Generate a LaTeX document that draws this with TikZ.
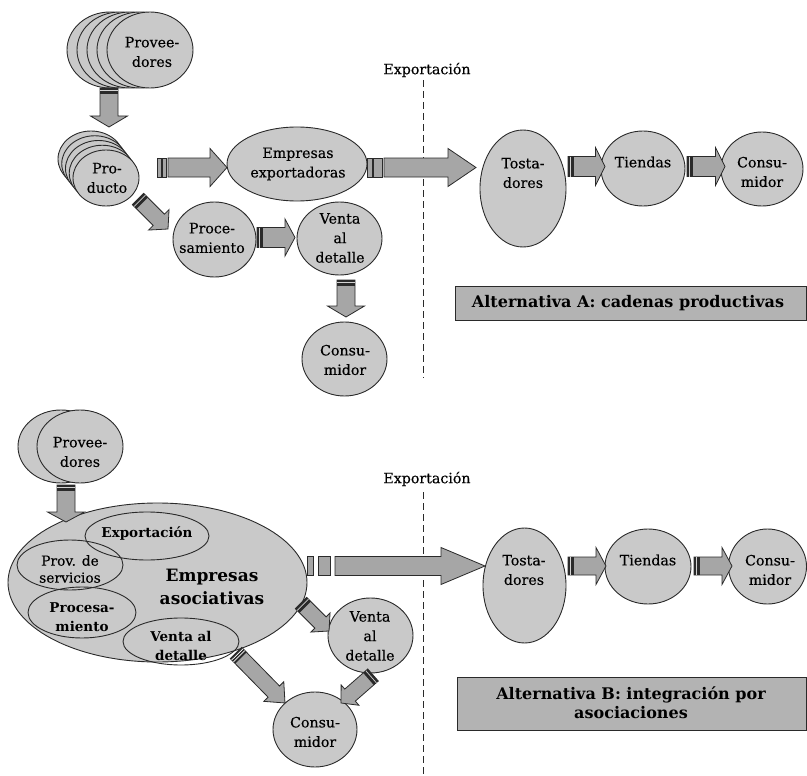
\documentclass[tikz,border=0pt]{standalone}
\usepackage{fontspec}
\setmainfont{DejaVu Serif}
\newfontfamily\lblfont{DejaVu Serif}[FakeBold=0.3]
\usetikzlibrary{calc,shapes.geometric}
\definecolor{ellfill}{HTML}{C9C9C9}
\definecolor{arrfill}{HTML}{A6A6A6}
\definecolor{boxfill}{HTML}{B3B3B3}
\definecolor{lineC}{HTML}{2A2A2A}
\tikzset{
 ell/.style={ellipse, draw=lineC, fill=ellfill, line width=0.9pt, inner sep=0pt},
 inell/.style={ellipse, draw=lineC, line width=0.9pt, inner sep=0pt},
 txt/.style={align=center, font=\lblfont\fontsize{14.2}{19.5}\selectfont, inner sep=0pt, text=black},
 smtxt/.style={align=center, font=\lblfont\fontsize{13.8}{17}\selectfont, inner sep=0pt, text=black},
 btxt/.style={align=center, font=\bfseries\fontsize{13.5}{19}\selectfont, inner sep=0pt, text=black},
 bigtxt/.style={align=center, font=\bfseries\fontsize{17}{23}\selectfont, inner sep=0pt, text=black},
 boxtxt/.style={align=center, font=\bfseries\fontsize{16}{19}\selectfont, inner sep=0pt, text=black},
 barr/.style={draw=lineC, fill=arrfill, line width=0.8pt, line join=miter},
 exline/.style={draw=lineC, dash pattern=on 7pt off 4pt, line width=0.8pt},
 altbox/.style={draw=lineC, fill=boxfill, line width=0.9pt, inner sep=0pt},
}
% block arrow: #1 tail, #2 tip, #3 shaft start, #4 shaft half width, #5 head half width, #6 head length, #7 tail decoration
\newcommand\blkarrow[7]{%
  \path let \p1=(#1), \p2=(#2) in
    \pgfextra{\pgfmathsetmacro\tmpA{atan2(\y2-\y1,\x2-\x1)}%
              \pgfmathsetmacro\tmpL{veclen(\x2-\x1,\y2-\y1)}%
              \global\let\baAng\tmpA \global\let\baLen\tmpL};
  \def\bahw{#4}%
  \begin{scope}[shift={(#1)}, rotate=\baAng]
    \draw[barr] (#3,-#4) -- ({\baLen-#6},-#4) -- ({\baLen-#6},-#5) -- (\baLen,0)
      -- ({\baLen-#6},#5) -- ({\baLen-#6},#4) -- (#3,#4) -- cycle;
    #7
  \end{scope}}
\newcommand\tailband{\fill[lineC] (0,-\bahw) rectangle (6,\bahw);
  \draw[arrfill!50!white, line width=0.7pt] (2.6,-\bahw) -- (2.6,\bahw);}
\newcommand\taillight{\fill[lineC] (0,-\bahw) rectangle (7,\bahw);
  \draw[white, line width=0.7pt] (2,-\bahw) -- (2,\bahw);
  \draw[white, line width=0.7pt] (4.5,-\bahw) -- (4.5,\bahw);}
\newcommand\tailstripes{\draw[barr] (0,-\bahw) rectangle (4,\bahw);
  \draw[barr] (5.5,-\bahw) rectangle (9,\bahw);}
\newcommand\tailgapA{\draw[barr] (0,-\bahw) rectangle (5,\bahw);
  \draw[barr] (6.5,-\bahw) rectangle (15,\bahw);}
\newcommand\tailgapB{\draw[barr] (0,-\bahw) rectangle (6,\bahw);
  \draw[barr] (11,-\bahw) rectangle (23,\bahw);}
\begin{document}
\begin{tikzpicture}[x=1pt,y=-1pt]
\useasboundingbox (0,0) rectangle (807,776);

% ================= Alternativa A =================
\foreach \i/\cx in {1/110,2/120,3/130,4/140}
  {\node[ell, minimum width=86pt, minimum height=76pt] (provTop\i) at (\cx,50) {};}
\node[ell, minimum width=86pt, minimum height=76pt] (provTop) at (150,50) {};
\node[txt] (provTopT) at (152,52) {Provee-\\dores};

\foreach \k in {4,3,2,1}
  {\node[ell, minimum width=66pt, minimum height=56pt] (prod\k) at ({106-3.75*\k},{178-4.75*\k}) {};}
\node[ell, minimum width=66pt, minimum height=56pt] (prod) at (106,178) {};
\node[txt] (prodT) at (107,178) {Pro-\\ducto};

\node[ell, minimum width=140pt, minimum height=74pt] (empA) at (297,164) {};
\node[txt] (empAT) at (298,164) {Empresas\\exportadoras};

\node[ell, minimum width=83pt, minimum height=75pt] (procA) at (214.5,239.5) {};
\node[txt] (procAT) at (212,238) {Proce-\\samiento};

\node[ell, minimum width=85pt, minimum height=73pt] (ventaA) at (339.5,238.5) {};
\node[txt] (ventaAT) at (340,238) {Venta\\al\\detalle};

\node[ell, minimum width=85pt, minimum height=74pt] (consA1) at (344.5,359) {};
\node[txt] (consA1T) at (345,360) {Consu-\\midor};

\node[ell, minimum width=86pt, minimum height=117pt] (tostA) at (523,188.5) {};
\node[txt] (tostAT) at (523,173) {Tosta-\\dores};

\node[ell, minimum width=84pt, minimum height=75pt] (tiendA) at (643,168.5) {};
\node[txt] (tiendAT) at (643,162) {Tiendas};

\node[ell, minimum width=82pt, minimum height=74pt] (consA2) at (762,169) {};
\node[txt] (consA2T) at (762,172) {Consu-\\midor};

\coordinate (dashA1) at (423,80);
\coordinate (dashA2) at (423,378);
\draw[exline] (dashA1) -- (dashA2);
\node[txt] (expA) at (427,70) {Exportación};

\node[altbox, anchor=north west, minimum width=351pt, minimum height=34pt] (altA) at (455,286) {};
\node[boxtxt] (altAT) at (628,303) {Alternativa A: cadenas productivas};

% arrows A
\coordinate (a1s) at (109,88);   \coordinate (a1e) at (109,127);
\coordinate (a2s) at (157,167.5); \coordinate (a2e) at (227,167.5);
\coordinate (a3s) at (367,167.5); \coordinate (a3e) at (476,167.5);
\coordinate (a4s) at (568,166.5); \coordinate (a4e) at (605,166.5);
\coordinate (a5s) at (687,166.5); \coordinate (a5e) at (725,166.5);
\coordinate (a6s) at (138,199);   \coordinate (a6e) at (168,229);
\coordinate (a7s) at (257,237.5); \coordinate (a7e) at (295,237.5);
\coordinate (a8s) at (346,280);   \coordinate (a8e) at (346,317);
\blkarrow{a1s}{a1e}{0}{9}{18.5}{11}{\tailband}
\blkarrow{a2s}{a2e}{11}{9.5}{19}{17}{\tailstripes}
\blkarrow{a3s}{a3e}{17}{9.5}{19}{28}{\tailgapA}
\blkarrow{a4s}{a4e}{0}{10}{19}{9.5}{\tailband}
\blkarrow{a5s}{a5e}{0}{10}{19}{9.5}{\tailband}
\blkarrow{a6s}{a6e}{0}{8}{14.5}{13}{\tailband}
\blkarrow{a7s}{a7e}{0}{10}{18.5}{10}{\tailband}
\blkarrow{a8s}{a8e}{0}{9}{18.5}{11}{\tailband}

% ================= Alternativa B =================
\node[ell, minimum width=86pt, minimum height=73pt] (provB1) at (61,446.5) {};
\node[ell, minimum width=86pt, minimum height=73pt] (provB) at (80,446.5) {};
\node[txt] (provBT) at (80,452) {Provee-\\dores};

\node[ell, minimum width=299pt, minimum height=159pt] (asoc) at (157.5,582.5) {};
\node[inell, minimum width=124pt, minimum height=48pt] (expIn) at (147,536) {};
\node[inell, minimum width=106pt, minimum height=50pt] (provSer) at (70,565) {};
\node[inell, minimum width=108pt, minimum height=51pt] (procIn) at (82,612.5) {};
\node[inell, minimum width=116pt, minimum height=47pt] (ventaIn) at (181,641.5) {};
\node[btxt] (expInT) at (147,534) {Exportación};
\node[smtxt] (provSerT) at (70,569) {Prov. de\\servicios};
\node[btxt] (procInT) at (82,617) {Procesa-\\miento};
\node[btxt] (ventaInT) at (181,646) {Venta al\\detalle};
\node[bigtxt] (asocT) at (212,587) {Empresas\\asociativas};

\node[ell, minimum width=83pt, minimum height=115pt] (tostB) at (524.5,585.5) {};
\node[txt] (tostBT) at (524,570) {Tosta-\\dores};

\node[ell, minimum width=86pt, minimum height=75pt] (tiendB) at (648,566.5) {};
\node[txt] (tiendBT) at (648,560) {Tiendas};

\node[ell, minimum width=78pt, minimum height=75pt] (consB2) at (767.5,566.5) {};
\node[txt] (consB2T) at (770,570) {Consu-\\midor};

\node[ell, minimum width=85pt, minimum height=75pt] (ventaB) at (370.5,635.5) {};
\node[txt] (ventaBT) at (370,636) {Venta\\al\\detalle};

\node[ell, minimum width=84pt, minimum height=75pt] (consB1) at (315,729.5) {};
\node[txt] (consB1T) at (315,732) {Consu-\\midor};

\coordinate (dashB1) at (423,492);
\coordinate (dashB2) at (423,776);
\draw[exline] (dashB1) -- (dashB2);
\node[txt] (expB) at (427,479) {Exportación};

\node[altbox, anchor=north west, minimum width=349pt, minimum height=53pt] (altB) at (457,677) {};
\node[boxtxt] (altBT) at (631,703) {Alternativa B: integración por\\asociaciones};

% arrows B
\coordinate (b1s) at (66,485);   \coordinate (b1e) at (66,522);
\coordinate (b2s) at (307,566);  \coordinate (b2e) at (485,566);
\coordinate (b3s) at (568,566);  \coordinate (b3e) at (606,566);
\coordinate (b4s) at (694,566);  \coordinate (b4e) at (732,566);
\coordinate (b5s) at (301,603);  \coordinate (b5e) at (329,631);
\coordinate (b6s) at (236,653);  \coordinate (b6e) at (285,703);
\coordinate (b7s) at (373,675);  \coordinate (b7e) at (341,703);
\blkarrow{b1s}{b1e}{0}{9}{18.5}{10}{\tailband}
\blkarrow{b2s}{b2e}{28}{9.5}{18.5}{44}{\tailgapB}
\blkarrow{b3s}{b3e}{0}{9}{18.5}{10}{\tailband}
\blkarrow{b4s}{b4e}{0}{9}{18.5}{10}{\tailband}
\blkarrow{b5s}{b5e}{0}{8}{13.5}{12}{\tailband}
\blkarrow{b6s}{b6e}{0}{8}{14}{16}{\taillight}
\blkarrow{b7s}{b7e}{0}{8}{13.5}{12}{\tailband}
\end{tikzpicture}
\end{document}
